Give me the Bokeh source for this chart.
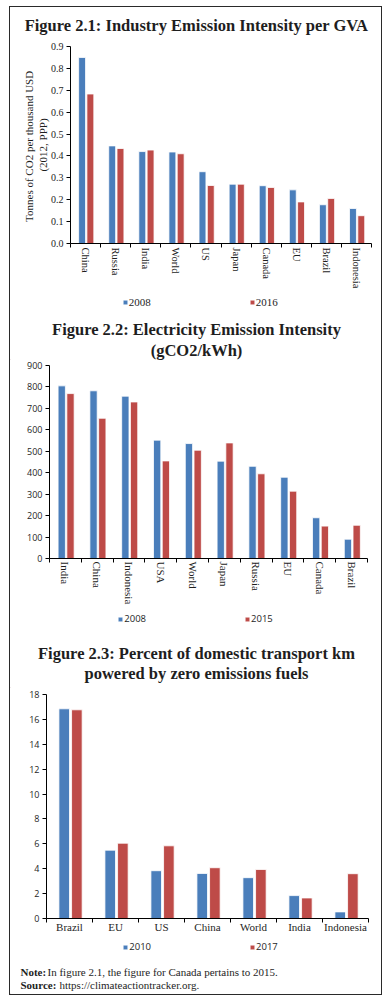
import numpy as np
from bokeh.plotting import figure
from bokeh.models import (Range1d, FixedTicker, SingleIntervalTicker, NumeralTickFormatter,
                          Label, Legend, LegendItem, ColumnDataSource)
from bokeh.transform import dodge
from bokeh.layouts import column
from bokeh.embed import file_html
from bokeh.resources import INLINE

# ---------------- data ----------------
ind_cats = ["China", "Russia", "India", "World", "US", "Japan", "Canada", "EU", "Brazil", "Indonesia"]
ind_2008 = [0.850, 0.446, 0.420, 0.418, 0.328, 0.271, 0.264, 0.245, 0.177, 0.160]
ind_2016 = [0.683, 0.434, 0.427, 0.410, 0.265, 0.271, 0.256, 0.190, 0.206, 0.127]
ind_years = ["2008", "2016"]

ele_cats = ["India", "China", "Indonesia", "USA", "World", "Japan", "Russia", "EU", "Canada", "Brazil"]
ele_2008 = [805, 782, 757, 552, 536, 454, 430, 379, 190, 90]
ele_2015 = [769, 654, 730, 455, 505, 539, 395, 314, 151, 155]
ele_years = ["2008", "2015"]

tr_cats = ["Brazil", "EU", "US", "China", "World", "India", "Indonesia"]
tr_2010 = [16.85, 5.49, 3.84, 3.62, 3.28, 1.84, 0.53]
tr_2017 = [16.77, 6.05, 5.84, 4.08, 3.94, 1.65, 3.60]
tr_years = ["2010", "2017"]

titles_1 = ["Figure 2.1: Industry Emission Intensity per GVA"]
titles_2 = ["Figure 2.2: Electricity Emission Intensity", "(gCO2/kWh)"]
titles_3 = ["Figure 2.3: Percent of domestic transport km", "powered by zero emissions fuels"]
note_text = ("Note:", "In figure 2.1, the figure for Canada pertains to 2015.")
source_text = ("Source:", "https://climateactiontracker.org.")

BLUE = "#4A7EBB"
RED = "#BE4B48"
TXT = "#1e1e1e"
SERIF = "Liberation Serif"
SANS = "Open Sans"

X0 = 10      # page x of content left edge
W = 371      # content width


def base_fig(h, **kw):
    p = figure(width=W, height=h, output_backend="svg", toolbar_location=None,
               frame_align=False, **kw)
    p.outline_line_color = None
    p.grid.visible = False
    p.background_fill_color = "white"
    p.border_fill_color = "white"
    return p


def chart(cats, s1, s2, ymax, step, fmt, h, mbl, mbr, mbt, mbb,
          tick_font, tick_size, orient, cat_standoff, cat_size="11px", ylabel=None):
    n = len(cats)
    p = base_fig(h, x_range=Range1d(0, n), y_range=Range1d(0, ymax),
                 min_border_left=mbl, min_border_right=mbr,
                 min_border_top=mbt, min_border_bottom=mbb)
    src = ColumnDataSource(dict(pos=np.arange(n) + 0.5, a=s1, b=s2))
    p.vbar(x=dodge("pos", -0.115), top="a", width=0.23, source=src,
           fill_color=BLUE, line_color="white", line_width=1, line_alpha=0.8)
    p.vbar(x=dodge("pos", 0.16), top="b", width=0.23, source=src,
           fill_color=RED, line_color="white", line_width=1, line_alpha=0.8)

    xa = p.xaxis[0]
    xa.ticker = FixedTicker(ticks=[i + 0.5 for i in range(n)], minor_ticks=list(range(n + 1)))
    xa.major_label_overrides = {i + 0.5: c for i, c in enumerate(cats)}
    xa.major_tick_line_color = None
    xa.major_tick_out = 0
    xa.major_tick_in = 0
    xa.minor_tick_line_color = "black"
    xa.minor_tick_out = 4
    xa.minor_tick_in = 0
    xa.axis_line_color = "black"
    xa.major_label_orientation = orient
    xa.major_label_standoff = cat_standoff
    xa.major_label_text_font = SERIF
    xa.major_label_text_font_size = cat_size
    xa.major_label_text_color = TXT

    ya = p.yaxis[0]
    ya.ticker = SingleIntervalTicker(interval=step, num_minor_ticks=0)
    ya.formatter = NumeralTickFormatter(format=fmt)
    ya.major_tick_out = 4
    ya.major_tick_in = 0
    ya.minor_tick_line_color = None
    ya.axis_line_color = "black"
    ya.major_tick_line_color = "black"
    ya.major_label_standoff = 3
    ya.major_label_text_font = tick_font
    ya.major_label_text_font_size = tick_size
    ya.major_label_text_color = TXT
    if ylabel:
        ya.axis_label = ylabel
        ya.axis_label_text_font = SERIF
        ya.axis_label_text_font_size = "11px"
        ya.axis_label_text_font_style = "normal"
        ya.axis_label_text_color = TXT
        ya.axis_label_standoff = -1
    return p


def text_block(top, h):
    p = base_fig(h, x_range=Range1d(0, W), y_range=Range1d(0, h),
                 min_border=0, x_axis_location=None, y_axis_location=None)

    def put(px, py, t, font, size, style="normal", align="center"):
        p.add_layout(Label(x=px - X0, y=top + h - py, text=t, text_font=font,
                           text_font_size=size, text_font_style=style, text_align=align,
                           text_baseline="middle", text_color=TXT))
    return p, put


def add_legend(p, top, h, years, font, size, lx, cy):
    # legend swatches: one bar each, placed off the visible frame
    e1 = p.vbar(x=[-100], top=[1], width=1, fill_color=BLUE, line_color="white", line_width=1, line_alpha=0.8)
    e2 = p.vbar(x=[-100], top=[1], width=1, fill_color=RED, line_color="white", line_width=1, line_alpha=0.8)
    half = 6
    leg = Legend(items=[LegendItem(label=years[0], renderers=[e1]),
                        LegendItem(label=years[1], renderers=[e2])],
                 location=(lx - X0, top + h - (cy + half)),
                 orientation="horizontal", spacing=98, glyph_width=6, glyph_height=6,
                 label_height=8, label_width=0, label_standoff=1, padding=0, margin=0,
                 border_line_color=None, background_fill_alpha=0,
                 label_text_font=font, label_text_font_size=size, label_text_color=TXT)
    p.add_layout(leg)


TITLE_SIZE = "16.5px"

# A: title 2.1   (page y 7..40)
tA, putA = text_block(7, 33)
putA(196, 25, titles_1[0], SERIF, TITLE_SIZE, "bold")

# B: chart 2.1   (page y 40..295)
cB = chart(ind_cats, ind_2008, ind_2016, 0.9, 0.1, "0.0", h=255, mbl=60, mbr=10, mbt=6, mbb=52,
           tick_font=SERIF, tick_size="10px", orient="vertical", cat_standoff=0, cat_size="10.5px",
           ylabel="Tonnes of CO2  per thousand USD\n(2012, PPP)")

# C: legend 2.1 + title 2.2   (page y 295..360)
tC, putC = text_block(295, 65)
add_legend(tC, 295, 65, ind_years, SERIF, "11px", 121.7, 302)
putC(196, 329, titles_2[0], SERIF, TITLE_SIZE, "bold")
putC(196, 350, titles_2[1], SERIF, TITLE_SIZE, "bold")

# D: chart 2.2   (page y 360..612)
cD = chart(ele_cats, ele_2008, ele_2015, 900, 100, "0", h=252, mbl=39, mbr=14, mbt=5, mbb=54,
           tick_font=SANS, tick_size="9px", orient="vertical", cat_standoff=-1)

# E: legend 2.2 + title 2.3   (page y 612..688)
tE, putE = text_block(612, 76)
add_legend(tE, 612, 76, ele_years, SANS, "9.5px", 117.3, 619)
putE(196, 653, titles_3[0], SERIF, TITLE_SIZE, "bold")
putE(196, 673, titles_3[1], SERIF, TITLE_SIZE, "bold")

# F: chart 2.3   (page y 688..940)
cF = chart(tr_cats, tr_2010, tr_2017, 18, 2, "0", h=252, mbl=36, mbr=13, mbt=6, mbb=22,
           tick_font=SANS, tick_size="9px", orient="horizontal", cat_standoff=-2)

# G: legend 2.3 + note   (page y 940..994)
tG, putG = text_block(940, 54)
add_legend(tG, 940, 54, tr_years, SANS, "9.5px", 122.3, 947)
putG(20, 971, note_text[0], SERIF, "11px", "bold", "left")
putG(47, 971, note_text[1], SERIF, "11px", "normal", "left")
putG(20, 984, source_text[0], SERIF, "11px", "bold", "left")
putG(59, 984, source_text[1], SERIF, "11px", "normal", "left")

layout = column(tA, cB, tC, cD, tE, cF, tG, spacing=0,
                styles={"border": "1px solid #2a2a2a", "margin-left": "9px", "margin-top": "6px"})

open("out.html", "w").write(file_html(layout, INLINE))
